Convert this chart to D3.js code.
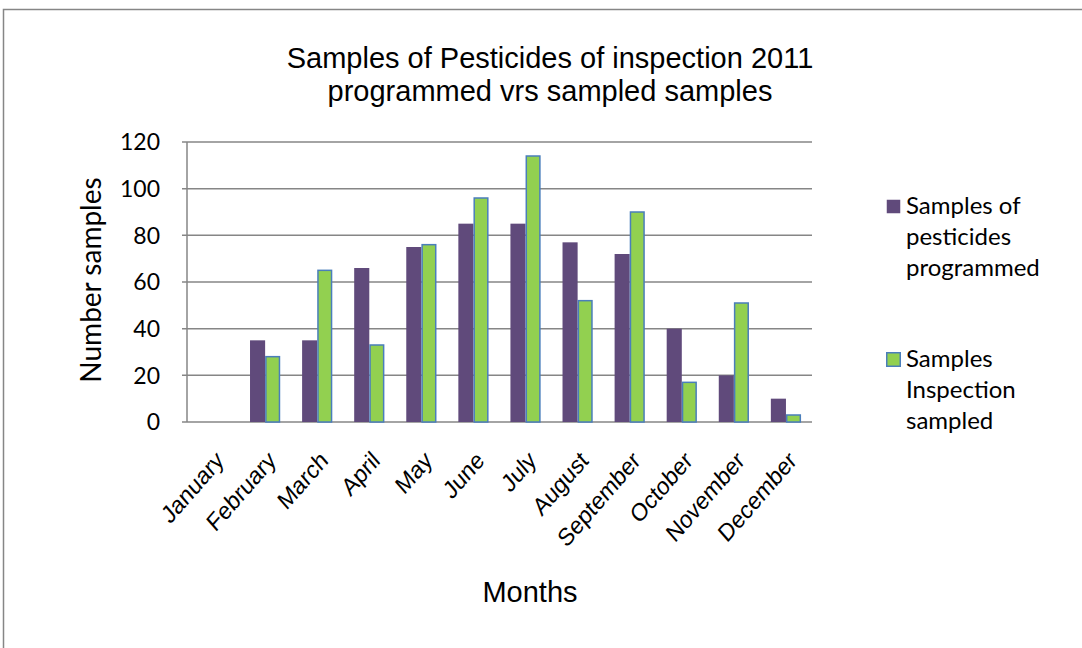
<!DOCTYPE html>
<html>
<head>
<meta charset="utf-8">
<script src="https://cdn.jsdelivr.net/npm/d3@7"></script>
<style>
	body { margin: 0; background: #fff; }
	svg { display: block; }
</style>
</head>
<body>
<div id="chart"></div>
<script>
// data
const months = ['January', 'February', 'March', 'April', 'May', 'June', 'July',
	'August', 'September', 'October', 'November', 'December']
const programmed = [0, 35, 35, 66, 75, 85, 85, 77, 72, 40, 20, 10]
const sampled = [0, 28, 65, 33, 76, 96, 114, 52, 90, 17, 51, 3]
const series_names = ['programmed', 'sampled']
const y_ticks = [0, 20, 40, 60, 80, 100, 120]
const legend_lines = [
	['Samples of', 'pesticides', 'programmed'],
	['Samples', 'Inspection', 'sampled']
]

const width = 1082
const height = 648
const plot = { left: 187, right: 812, top: 142, bottom: 422 }

const colors = { programmed: '#604A7B', sampled: '#92D050' }
const strokes = { programmed: 'none', sampled: '#4A7EBB' }

const svg = d3.select('#chart')
	.append('svg')
	.attr('width', width)
	.attr('height', height)

// outer chart border (runs off the right and bottom edges)
svg.append('rect')
	.attr('x', 3.5)
	.attr('y', 9.5)
	.attr('width', 1200)
	.attr('height', 800)
	.attr('fill', 'none')
	.attr('stroke', '#868686')
	.attr('stroke-width', 1.5)

// scales
const x = d3.scaleBand()
	.domain(months)
	.range([plot.left, plot.right])
	.paddingInner(0.42)
	.paddingOuter(0.21)

const x1 = d3.scaleBand()
	.domain(series_names)
	.range([0, x.bandwidth()])

const y = d3.scaleLinear()
	.domain([0, 120])
	.range([plot.bottom, plot.top])

// gridlines
svg.append('g')
	.selectAll('line')
	.data(y_ticks)
	.enter()
	.append('line')
	.attr('x1', plot.left - 5)
	.attr('x2', plot.right)
	.attr('y1', d => y(d))
	.attr('y2', d => y(d))
	.attr('stroke', '#868686')
	.attr('stroke-width', 1.5)

// y axis line
svg.append('line')
	.attr('x1', plot.left)
	.attr('x2', plot.left)
	.attr('y1', y(120))
	.attr('y2', y(0))
	.attr('stroke', '#868686')
	.attr('stroke-width', 1.5)

// y tick labels
svg.append('g')
	.selectAll('text')
	.data(y_ticks)
	.enter()
	.append('text')
	.attr('x', 160)
	.attr('y', d => y(d))
	.attr('dy', '0.36em')
	.attr('text-anchor', 'end')
	.style('font-family', 'Lato')
	.style('font-size', '23px')
	.style('fill', '#000')
	.text(d => d)

// bars
const rows = months.map((m, i) => ({ month: m, programmed: programmed[i], sampled: sampled[i] }))

const groups = svg.append('g')
	.selectAll('g')
	.data(rows)
	.enter()
	.append('g')
	.attr('transform', d => 'translate(' + x(d.month) + ',0)')

groups.selectAll('rect')
	.data(d => series_names.map(k => ({ key: k, value: d[k] })))
	.enter()
	.filter(d => d.value > 0)
	.append('rect')
	.attr('x', d => x1(d.key) + (d.key == 'sampled' ? 0.75 : 0))
	.attr('y', d => y(d.value))
	.attr('width', d => x1.bandwidth() - (d.key == 'sampled' ? 1.5 : 0))
	.attr('height', d => y(0) - y(d.value))
	.attr('fill', d => colors[d.key])
	.attr('stroke', d => strokes[d.key])
	.attr('stroke-width', 1.5)

// x tick labels, rotated (slightly squeezed like the original)
svg.append('g')
	.selectAll('text')
	.data(months)
	.enter()
	.append('text')
	.attr('transform', d => 'translate(' + (x(d) + x.bandwidth() / 2 + 12) + ',462) scale(0.87,1) rotate(-45)')
	.attr('text-anchor', 'end')
	.style('font-family', 'Liberation Sans, Arial, sans-serif')
	.style('font-size', '25px')
	.style('fill', '#000')
	.text(d => d)

// title
const title = svg.append('text')
	.attr('text-anchor', 'middle')
	.style('font-family', 'Liberation Sans, Arial, sans-serif')
	.style('font-size', '29px')
	.style('fill', '#000')
title.append('tspan').attr('x', 550).attr('y', 68).text('Samples of Pesticides of inspection 2011')
title.append('tspan').attr('x', 550).attr('y', 101).text('programmed vrs sampled samples')

// axis titles
svg.append('text')
	.attr('transform', 'translate(101,280) rotate(-90)')
	.attr('text-anchor', 'middle')
	.style('font-family', 'Lato')
	.style('font-size', '28px')
	.style('fill', '#000')
	.text('Number samples')

svg.append('text')
	.attr('x', 530)
	.attr('y', 602)
	.attr('text-anchor', 'middle')
	.style('font-family', 'Liberation Sans, Arial, sans-serif')
	.style('font-size', '29px')
	.style('fill', '#000')
	.text('Months')

// legend
const legend = svg.append('g')
	.selectAll('g')
	.data(series_names)
	.enter()
	.append('g')
	.attr('transform', (d, i) => 'translate(886,' + (199 + i * 153) + ')')

legend.append('rect')
	.attr('x', 0.75)
	.attr('y', 0.75)
	.attr('width', 13.5)
	.attr('height', 13.5)
	.attr('fill', d => colors[d])
	.attr('stroke', d => strokes[d])
	.attr('stroke-width', 1.5)

legend.append('text')
	.style('font-family', 'Lato')
	.style('font-size', '24px')
	.style('fill', '#000')
	.selectAll('tspan')
	.data((d, i) => legend_lines[i])
	.enter()
	.append('tspan')
	.attr('x', 20)
	.attr('y', (d, i) => 15 + i * 31)
	.text(d => d)
</script>
</body>
</html>
